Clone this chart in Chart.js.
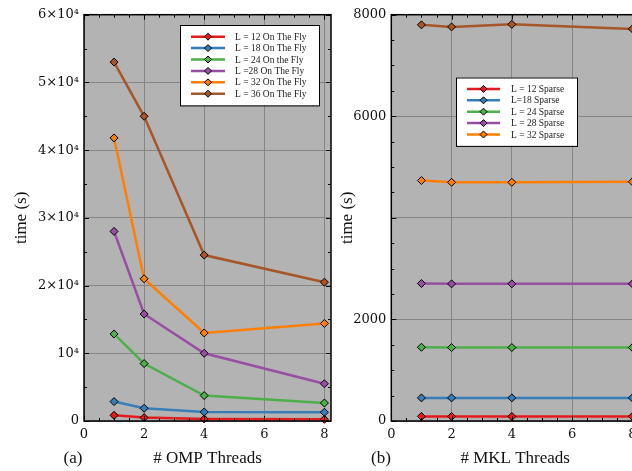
<!DOCTYPE html>
<html>
<head>
<meta charset="utf-8">
<script src="https://cdn.jsdelivr.net/npm/chart.js@4.4.0/dist/chart.umd.min.js"></script>
<style>
  html, body { margin: 0; padding: 0; background: #fff; overflow: hidden; width: 632px; height: 471px; }
  #wrapA { position: absolute; left: 0; top: 0; width: 340px; height: 471px; }
  #wrapB { position: absolute; left: 340px; top: 0; width: 305px; height: 471px; }
</style>
</head>
<body>
<div id="wrapA"><canvas id="chartA" width="340" height="471"></canvas></div>
<div id="wrapB"><canvas id="chartB" width="305" height="471"></canvas></div>
<script>
// shared x values (number of threads)
var threads = [1, 2, 4, 8];
var xTickValues = [0, 2, 4, 6, 8];

// panel (a): OMP threads, on the fly
var ompNames = ["L = 12 On The Fly", "L = 18 On The Fly", "L = 24 On the Fly",
                "L =28 On The Fly", "L = 32 On The Fly", "L = 36 On The Fly"];
var omp12 = [840, 500, 300, 250];
var omp18 = [2870, 1880, 1330, 1290];
var omp24 = [12850, 8480, 3750, 2660];
var omp28 = [28000, 15800, 10000, 5500];
var omp32 = [41800, 21000, 13000, 14400];
var omp36 = [53000, 45000, 24500, 20500];
var ompYTickValues = [0, 10000, 20000, 30000, 40000, 50000, 60000];
var ompYTickLabels = ["0", "10\u2074", "2\u00d710\u2074", "3\u00d710\u2074", "4\u00d710\u2074", "5\u00d710\u2074", "6\u00d710\u2074"];

// panel (b): MKL threads, sparse
var mklNames = ["L = 12 Sparse", "L=18 Sparse", "L = 24 Sparse", "L = 28 Sparse", "L = 32 Sparse", "L = 36 Sparse"];
var mkl12 = [90, 90, 90, 90];
var mkl18 = [455, 455, 455, 455];
var mkl24 = [1452, 1446, 1446, 1446];
var mkl28 = [2707, 2700, 2700, 2700];
var mkl32 = [4736, 4700, 4700, 4710];
var mkl36 = [7800, 7760, 7810, 7720];
var mklYTickValues = [0, 2000, 4000, 6000, 8000];
var mklYTickLabels = ["0", "2000", "", "6000", "8000"];

var colors = ["#e41a1c", "#377eb8", "#4daf4a", "#984ea3", "#ff7f00", "#a65628"];

function series(name, values, i) {
  return {
    label: name,
    data: threads.map(function (x, k) { return { x: x, y: values[k] }; }),
    borderColor: colors[i],
    backgroundColor: colors[i],
    borderWidth: 2.5,
    pointStyle: "rectRot",
    pointRadius: 4,
    pointHoverRadius: 4,
    pointBorderColor: "#000",
    pointBorderWidth: 1,
    tension: 0,
    clip: false
  };
}

// gray plot background, frame with inward ticks, axis titles and inset legend
var decor = {
  id: "decor",
  beforeDraw: function (chart, args, o) {
    var ca = chart.chartArea, ctx = chart.ctx;
    ctx.save();
    ctx.fillStyle = "#b3b3b3";
    ctx.fillRect(ca.left, ca.top, ca.right - ca.left, ca.bottom - ca.top);
    ctx.restore();
  },
  afterDatasetsDraw: function (chart, args, o) {
    var ca = chart.chartArea, ctx = chart.ctx;
    var xs = chart.scales.x, ys = chart.scales.y;
    ctx.save();
    ctx.strokeStyle = "#000";
    ctx.lineWidth = 1;
    var v, p, len;
    for (v = 0; v <= xs.max + 1e-9; v += o.xMinor) {
      p = Math.round(xs.getPixelForValue(v)) + 0.5;
      len = (Math.abs(v % o.xMajor) < 1e-9) ? 5 : 3;
      ctx.beginPath();
      ctx.moveTo(p, ca.bottom); ctx.lineTo(p, ca.bottom - len);
      ctx.moveTo(p, ca.top); ctx.lineTo(p, ca.top + len);
      ctx.stroke();
    }
    for (v = 0; v <= ys.max + 1e-9; v += o.yMinor) {
      p = Math.round(ys.getPixelForValue(v)) + 0.5;
      len = (Math.abs(v % o.yMajor) < 1e-9) ? 5 : 3;
      ctx.beginPath();
      ctx.moveTo(ca.left, p); ctx.lineTo(ca.left + len, p);
      ctx.moveTo(ca.right, p); ctx.lineTo(ca.right - len, p);
      ctx.stroke();
    }
    ctx.lineWidth = 1.5;
    ctx.strokeRect(ca.left, ca.top, ca.right - ca.left, ca.bottom - ca.top);

    // axis titles
    ctx.fillStyle = "#111";
    ctx.font = "17px 'Liberation Serif'";
    ctx.textAlign = "center";
    ctx.textBaseline = "alphabetic";
    ctx.fillText(o.xTitle, (ca.left + ca.right) / 2, 463);
    ctx.fillText(o.tag, o.tagX, 463);
    ctx.save();
    ctx.translate(o.yTitleX, (ca.top + ca.bottom) / 2);
    ctx.rotate(-Math.PI / 2);
    ctx.fillText(o.yTitle, 0, 0);
    ctx.restore();

    // legend
    var lg = o.legend;
    var items = chart.data.datasets.slice(0, lg.count);
    var h = lg.pad * 2 + (items.length - 1) * lg.rowH;
    ctx.fillStyle = "#fff";
    ctx.fillRect(lg.x, lg.y, lg.w, h);
    ctx.strokeStyle = "#000";
    ctx.lineWidth = 1;
    ctx.strokeRect(lg.x + 0.5, lg.y + 0.5, lg.w, h);
    ctx.font = "9.5px 'Liberation Serif'";
    ctx.textAlign = "left";
    ctx.textBaseline = "middle";
    items.forEach(function (ds, i) {
      var yy = lg.y + lg.pad + i * lg.rowH;
      ctx.strokeStyle = ds.borderColor;
      ctx.lineWidth = 2.5;
      ctx.beginPath();
      ctx.moveTo(lg.x + lg.lineFrom, yy); ctx.lineTo(lg.x + lg.lineTo, yy);
      ctx.stroke();
      ctx.fillStyle = ds.borderColor;
      ctx.strokeStyle = "#000";
      ctx.lineWidth = 1;
      ctx.beginPath();
      var cx = lg.x + (lg.lineFrom + lg.lineTo) / 2, r = 3.5;
      ctx.moveTo(cx, yy - r); ctx.lineTo(cx + r, yy); ctx.lineTo(cx, yy + r); ctx.lineTo(cx - r, yy);
      ctx.closePath(); ctx.fill(); ctx.stroke();
      ctx.fillStyle = "#222";
      ctx.fillText(ds.label, lg.x + lg.textX, yy + 0.5);
    });
    ctx.restore();
  }
};

var tickFont = { family: "'DejaVu Serif'", size: 13 };

function makeOptions(yMax, yTickValues, yTickLabels, yWidth, rightPad, dec) {
  return {
    responsive: false,
    animation: false,
    layout: { padding: { top: 14.7, right: rightPad, left: 0, bottom: 0 } },
    plugins: { legend: { display: false }, tooltip: { enabled: false }, decor: dec },
    scales: {
      x: {
        type: "linear", min: 0, max: 8.22,
        afterBuildTicks: function (s) { s.ticks = xTickValues.map(function (v) { return { value: v }; }); },
        afterFit: function (s) { s.height = 50; },
        ticks: { font: tickFont, color: "#111", padding: 6, maxRotation: 0, autoSkip: false,
                 callback: function (v) { return String(v); } },
        grid: { color: "#858585", lineWidth: 1, drawTicks: false },
        border: { display: false }
      },
      y: {
        type: "linear", min: 0, max: yMax,
        afterBuildTicks: function (s) { s.ticks = yTickValues.map(function (v) { return { value: v }; }); },
        afterFit: function (s) { s.width = yWidth; },
        ticks: { font: tickFont, color: "#111", padding: 5, autoSkip: false,
                 callback: function (v, i) { return yTickLabels[i]; } },
        grid: { color: "#858585", lineWidth: 1, drawTicks: false },
        border: { display: false }
      }
    }
  };
}

var ompData = [omp12, omp18, omp24, omp28, omp32, omp36];
new Chart(document.getElementById("chartA"), {
  type: "line",
  data: { datasets: ompData.map(function (d, i) { return series(ompNames[i], d, i); }) },
  options: makeOptions(60000, ompYTickValues, ompYTickLabels, 84, 9, {
    xMinor: 0.5, xMajor: 2, yMinor: 5000, yMajor: 10000,
    xTitle: "# OMP Threads", tag: "(a)", tagX: 73, yTitle: "time (s)", yTitleX: 26,
    legend: { x: 180, y: 25, w: 139, count: 6, pad: 11.7, rowH: 11.4, lineFrom: 11, lineTo: 45, textX: 55 }
  }),
  plugins: [decor]
});

var mklData = [mkl12, mkl18, mkl24, mkl28, mkl32, mkl36];
new Chart(document.getElementById("chartB"), {
  type: "line",
  data: { datasets: mklData.map(function (d, i) { return series(mklNames[i], d, i); }) },
  options: makeOptions(8000, mklYTickValues, mklYTickLabels, 51.3, 6, {
    xMinor: 0.5, xMajor: 2, yMinor: 500, yMajor: 2000,
    xTitle: "# MKL Threads", tag: "(b)", tagX: 41, yTitle: "time (s)", yTitleX: 12,
    legend: { x: 116, y: 77.5, w: 121, count: 5, pad: 11.4, rowH: 11.4, lineFrom: 11, lineTo: 44, textX: 55 }
  }),
  plugins: [decor]
});
</script>
</body>
</html>
